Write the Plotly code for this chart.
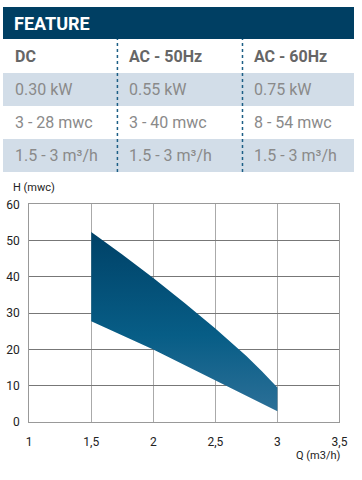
import plotly.graph_objects as go

W, H = 362, 480

# Table data
table_title = "FEATURE"
columns = ["DC", "AC - 50Hz", "AC - 60Hz"]
power = ["0.30 kW", "0.55 kW", "0.75 kW"]
head = ["3 - 28 mwc", "3 - 40 mwc", "8 - 54 mwc"]
flow = ["1.5 - 3 m³/h", "1.5 - 3 m³/h", "1.5 - 3 m³/h"]

# Curve data (Q in m3/h, H in mwc)
q_upper = [1.5, 1.75, 2.0, 2.25, 2.5, 2.625, 2.75, 2.875, 3.0]
h_upper = [52.4, 46.2, 39.7, 32.9, 25.8, 22.1, 18.2, 14.0, 9.5]
q_lower = [3.0, 2.5, 2.0, 1.5]
h_lower = [3.0, 11.4, 20.0, 27.8]

x_ticks = [1, 1.5, 2, 2.5, 3, 3.5]
x_ticklabels = ["1", "1,5", "2", "2,5", "3", "3,5"]
y_ticks = [0, 10, 20, 30, 40, 50, 60]

FONT = "Roboto, Liberation Sans, sans-serif"

def px(x):
    return x / W

def py(y):
    return 1 - y / H

fig = go.Figure()
fig.add_trace(go.Scatter(
    x=q_upper + q_lower + [q_upper[0]],
    y=h_upper + h_lower + [h_upper[0]],
    mode="lines",
    line=dict(width=0, color="rgba(0,0,0,0)"),
    fill="toself",
    fillcolor="#0b5a82",
    fillgradient=dict(type="vertical", start=3, stop=52,
                      colorscale=[[0, "#2f7199"], [0.45, "#075d86"], [1, "#004268"]]),
    hoverinfo="skip",
    showlegend=False,
))

shapes = []
annotations = []
# header bar
shapes.append(dict(type="rect", xref="paper", yref="paper", x0=0, x1=1,
                   y0=py(33), y1=py(0), fillcolor="#003f63", line=dict(width=0), layer="below"))
annotations.append(dict(text="<b>" + table_title + "</b>", xref="paper", yref="paper",
                        x=px(9), y=py(17), xanchor="left", yanchor="middle", showarrow=False,
                        font=dict(family=FONT, size=18, color="white")))
# shaded rows
for y0, y1 in [(68, 102), (136, 170)]:
    shapes.append(dict(type="rect", xref="paper", yref="paper", x0=0, x1=1,
                       y0=py(y1), y1=py(y0), fillcolor="#d2dde8", line=dict(width=0), layer="below"))
# dotted separators
for xs in [118, 247]:
    shapes.append(dict(type="line", xref="paper", yref="paper", x0=px(xs), x1=px(xs),
                       y0=py(170), y1=py(33), line=dict(color="#1d5f86", width=1.5, dash="dot")))
col_x = [10, 128, 257]
for i, c in enumerate(columns):
    annotations.append(dict(text="<b>" + c + "</b>", xref="paper", yref="paper",
                            x=px(col_x[i]), y=py(51), xanchor="left", yanchor="middle", showarrow=False,
                            font=dict(family=FONT, size=16, color="#666666")))
for row, yc in [(power, 85), (head, 119), (flow, 153)]:
    for i, v in enumerate(row):
        annotations.append(dict(text=v, xref="paper", yref="paper",
                                x=px(col_x[i]), y=py(yc), xanchor="left", yanchor="middle", showarrow=False,
                                font=dict(family=FONT, size=16, color="#8a8a8a")))

annotations.append(dict(text="H (mwc)", xref="paper", yref="paper", x=px(8), y=py(186),
                        xanchor="left", yanchor="middle", showarrow=False,
                        font=dict(family=FONT, size=11, color="#222")))
annotations.append(dict(text="Q (m3/h)", xref="paper", yref="paper", x=px(350), y=py(462),
                        xanchor="right", yanchor="middle", showarrow=False,
                        font=dict(family=FONT, size=11, color="#222")))

fig.update_layout(
    width=W, height=H,
    margin=dict(l=0, r=0, t=0, b=0),
    paper_bgcolor="white", plot_bgcolor="white",
    shapes=shapes, annotations=annotations,
    xaxis=dict(domain=[px(27), px(347)], range=[1, 3.5], tickvals=x_ticks, ticktext=x_ticklabels,
               showgrid=True, gridcolor="#aaaaaa", gridwidth=1, zeroline=False,
               showline=True, linecolor="#999999", linewidth=1, mirror=True,
               ticks="", ticklabelstandoff=9,
               tickfont=dict(family=FONT, size=12, color="#222"), fixedrange=True),
    yaxis=dict(domain=[py(427.5), py(203.3)], range=[0, 60], tickvals=y_ticks,
               showgrid=True, gridcolor="#777777", gridwidth=1, zeroline=False,
               showline=True, linecolor="#999999", linewidth=1, mirror=True,
               ticks="", ticklabelstandoff=6,
               tickfont=dict(family=FONT, size=12, color="#222"), fixedrange=True),
    showlegend=False,
)

fig.write_html("out.html")
